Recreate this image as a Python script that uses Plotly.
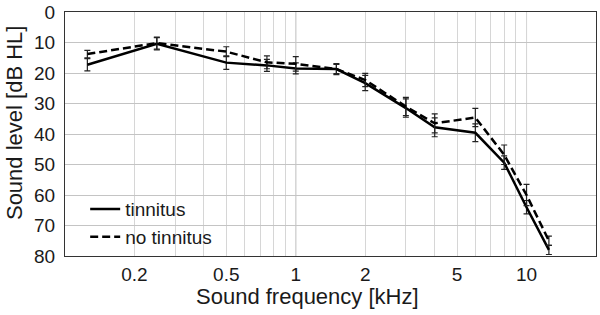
import numpy as np
import plotly.graph_objects as go

# Audiometric frequencies (kHz)
freq_khz = [0.125, 0.25, 0.5, 0.75, 1, 1.5, 2, 3, 4, 6, 8, 10, 12.5]

# Mean hearing thresholds (dB HL) and standard errors
tinnitus = [17.3, 10.4, 16.6, 17.5, 18.5, 18.7, 23.3, 31.5, 37.8, 39.6, 49.4, 64.0, 78.0]
tinnitus_err = [2.0, 2.0, 2.2, 2.0, 1.8, 1.5, 2.5, 3.0, 3.1, 2.9, 2.2, 2.2, 1.5]
no_tinnitus = [13.8, 10.2, 13.0, 16.5, 17.0, 18.7, 22.3, 31.0, 36.5, 34.6, 46.8, 60.0, 75.0]
no_tinnitus_err = [1.2, 2.0, 1.6, 2.1, 2.4, 1.8, 2.2, 3.0, 3.1, 3.0, 3.2, 3.5, 1.5]

# Axis ticks
x_tick_vals = [0.2, 0.5, 1, 2, 5, 10]
x_tick_text = ["0.2", "0.5", "1", "2", "5", "10"]
x_minor_vals = [0.3, 0.4, 0.6, 0.7, 0.8, 0.9, 3, 4, 6, 7, 8, 9]
x_dark_grid = [1, 10]
y_tick_vals = [0, 10, 20, 30, 40, 50, 60, 70, 80]

X_MIN, X_MAX = 0.1, 20
LOG_RANGE = [np.log10(X_MIN), np.log10(X_MAX)]


def to_paper(v):
    return (np.log10(v) - LOG_RANGE[0]) / (LOG_RANGE[1] - LOG_RANGE[0])


FONT = "Liberation Sans, Arial, sans-serif"
fig = go.Figure()

fig.add_trace(go.Scatter(
    x=freq_khz, y=tinnitus, mode="lines", name="tinnitus",
    line=dict(color="black", width=2.5),
    error_y=dict(type="data", array=tinnitus_err, color="#222222", thickness=1.2, width=3),
))
fig.add_trace(go.Scatter(
    x=freq_khz, y=no_tinnitus, mode="lines", name="no tinnitus",
    line=dict(color="black", width=2.5, dash="8px,4px"),
    error_y=dict(type="data", array=no_tinnitus_err, color="#222222", thickness=1.2, width=3),
))

shapes = [
    # white legend background box hiding the grid
    dict(type="rect", xref="paper", yref="y", x0=0, x1=to_paper(1) - 0.002, y0=60.4, y1=80,
         fillcolor="white", line=dict(width=0), layer="between"),
]
for v in x_dark_grid:
    shapes.append(dict(type="line", xref="paper", yref="paper", x0=to_paper(v), x1=to_paper(v),
                       y0=0, y1=1, line=dict(color="#a6a6a6", width=1), layer="between"))

fig.update_layout(
    width=600, height=315,
    margin=dict(l=65, r=4, t=12, b=59, autoexpand=False),
    paper_bgcolor="white", plot_bgcolor="white",
    font=dict(family=FONT, color="#1a1a1a"),
    showlegend=True,
    legend=dict(x=0.038, y=0.27, xanchor="left", yanchor="top",
                bgcolor="rgba(0,0,0,0)", font=dict(size=19, family=FONT),
                tracegroupgap=0),
    shapes=shapes,
    annotations=[
        dict(text="Sound frequency [kHz]", xref="paper", yref="paper", x=0.457, y=-0.168,
             xanchor="center", yanchor="middle", showarrow=False, font=dict(size=22, family=FONT)),
        dict(text="Sound level [dB HL]", xref="paper", yref="paper", x=-0.096, y=0.545,
             xanchor="center", yanchor="middle", textangle=-90, showarrow=False,
             font=dict(size=22, family=FONT)),
    ],
)

fig.update_xaxes(
    type="log", range=LOG_RANGE, automargin=False,
    tickvals=x_tick_vals, ticktext=x_tick_text,
    showgrid=True, gridcolor="#d6d6d6", gridwidth=1,
    minor=dict(tickvals=x_minor_vals, showgrid=True, gridcolor="#d6d6d6", ticks=""),
    showline=True, linecolor="#333333", linewidth=1, mirror=True,
    ticks="", tickfont=dict(size=19, family=FONT), ticklabelstandoff=1,
    zeroline=False,
)
fig.update_yaxes(
    range=[80, 0], tickvals=y_tick_vals, automargin=False,
    showgrid=True, gridcolor="#c4c4c4", gridwidth=1,
    showline=True, linecolor="#333333", linewidth=1, mirror=True,
    ticks="", tickfont=dict(size=19, family=FONT), ticklabelstandoff=5,
    zeroline=False,
)

fig.write_html("out.html", config={"displayModeBar": False},
               post_script="document.body.style.margin='0';")
